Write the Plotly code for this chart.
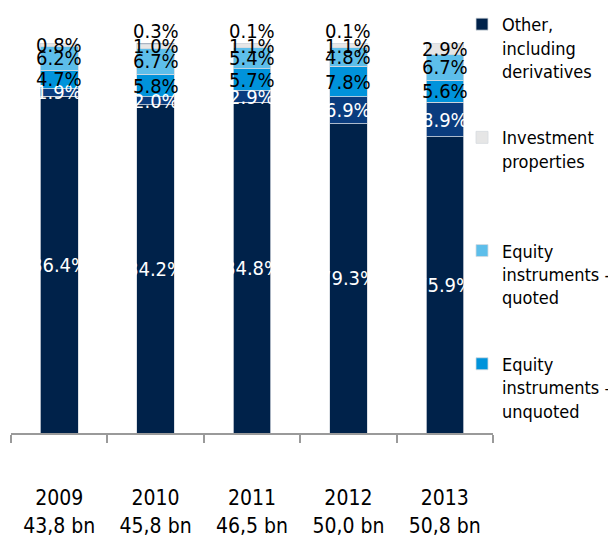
import plotly.graph_objects as go

categories = ["2009<br>43,8 bn", "2010<br>45,8 bn", "2011<br>46,5 bn", "2012<br>50,0 bn", "2013<br>50,8 bn"]

debt_main = [86.4, 84.2, 84.8, 79.3, 75.9]
debt_other = [1.9, 2.0, 2.9, 6.9, 8.9]
equity_unquoted = [4.7, 5.8, 5.7, 7.8, 5.6]
equity_quoted = [6.2, 6.7, 5.4, 4.8, 6.7]
investment_properties = [0.8, 1.0, 1.1, 1.1, 2.9]
other_derivatives = [None, 0.3, 0.1, 0.1, None]

FONT = "Tahoma, 'DejaVu Sans Condensed', 'DejaVu Sans', sans-serif"

series = [
    ("Debt instruments", debt_main, "#00224A", "white", False),
    ("Debt instruments – other", debt_other, "#0A3C7E", "white", False),
    ("Equity<br>instruments –<br>unquoted", equity_unquoted, "#0093DB", "black", True),
    ("Equity<br>instruments -<br>quoted", equity_quoted, "#5DBEEA", "black", True),
    ("Investment<br>properties<br> ", investment_properties, "#E6E6E6", "black", True),
    ("Other,<br>including<br>derivatives", other_derivatives, "#00224A", "black", True),
]

fig = go.Figure()
annotations = []
base = [0.0] * len(categories)
for i, (name, vals, color, tcolor, show) in enumerate(series):
    last = i == len(series) - 1
    fig.add_trace(go.Bar(
        x=categories, y=vals, name=name,
        marker=dict(color=color, line=dict(color="#d5dae0", width=0.8)),
        showlegend=show,
        legendgroup=f"g{i}",
        legendrank=100 - i,
        width=0.39,
        hoverinfo="x+y+name",
    ))
    for j, v in enumerate(vals):
        if not v:
            continue
        annotations.append(dict(
            x=categories[j],
            y=base[j] + (v if last else v / 2),
            yshift=12 if last else 0,
            text=f"{v:.1f}%",
            showarrow=False, xref="x", yref="y",
            font=dict(family=FONT, size=20, color=tcolor),
        ))
        base[j] += v

fig.update_layout(
    barmode="stack",
    width=616, height=537,
    margin=dict(l=3, r=131, t=35, b=112, autoexpand=False),
    paper_bgcolor="white", plot_bgcolor="white",
    font=dict(family=FONT, size=18, color="black"),
    annotations=annotations,
    legend=dict(
        x=0.9357, xanchor="left", y=1.095, yanchor="top",
        font=dict(family=FONT, size=18, color="black"),
        tracegroupgap=40, valign="top", itemwidth=30,
        traceorder="grouped",
        bgcolor="rgba(0,0,0,0)", maxheight=600,
    ),
    xaxis=dict(
        showline=True, linecolor="#9a9a9a", linewidth=2,
        ticks="outside", tickson="boundaries", ticklen=8, tickcolor="#9a9a9a", tickwidth=2,
        ticklabelstandoff=45, tickfont=dict(family=FONT, size=21),
        showgrid=False,
    ),
    yaxis=dict(range=[0, 100], visible=False, showgrid=False, zeroline=False),
)

fig.write_html("out.html")
